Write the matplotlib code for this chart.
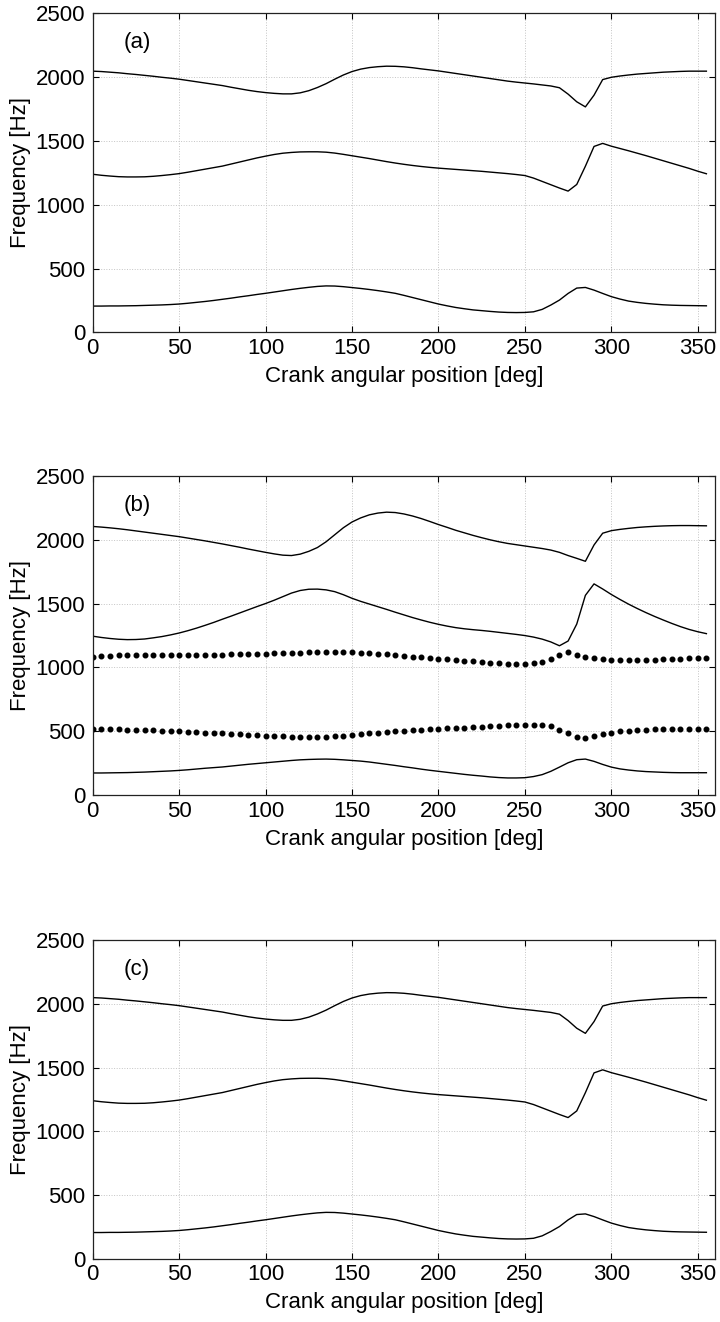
import numpy as np
from matplotlib import pyplot as plt

plt.rcParams['font.family'] = ['Liberation Sans', 'DejaVu Sans']

# crank angle, sampled every 5 deg
angle = np.arange(0, 360, 5)

# panels (a) and (c) - three modes
f1_a = [207, 207, 208, 208, 209, 210, 212, 214, 216, 219,
        223, 229, 236, 243, 251, 260, 269, 279, 288, 298,
        307, 317, 327, 337, 346, 354, 361, 365, 364, 359,
        352, 345, 337, 328, 318, 307, 291, 274, 257, 240,
        223, 209, 196, 186, 177, 171, 165, 160, 157, 156,
        157, 162, 181, 215, 254, 306, 348, 353, 332, 306,
        281, 262, 246, 236, 228, 222, 217, 214, 212, 211,
        210, 209]
f2_a = [1240, 1232, 1226, 1221, 1219, 1219, 1220, 1224, 1230, 1237,
        1245, 1256, 1268, 1280, 1292, 1304, 1320, 1336, 1352, 1368,
        1382, 1395, 1405, 1411, 1415, 1416, 1416, 1413, 1406, 1396,
        1385, 1374, 1363, 1351, 1339, 1328, 1318, 1309, 1301, 1294,
        1288, 1283, 1278, 1273, 1268, 1263, 1257, 1251, 1245, 1238,
        1230, 1210, 1184, 1158, 1132, 1108, 1160, 1303, 1458, 1482,
        1460, 1442, 1424, 1405, 1386, 1366, 1346, 1326, 1306, 1286,
        1264, 1244]
f3_a = [2048, 2045, 2040, 2035, 2028, 2022, 2015, 2008, 2000, 1993,
        1985, 1975, 1965, 1955, 1945, 1935, 1922, 1910, 1898, 1888,
        1880, 1874, 1870, 1870, 1878, 1895, 1920, 1950, 1985, 2018,
        2045, 2064, 2076, 2083, 2087, 2086, 2082, 2075, 2066, 2058,
        2050, 2040, 2030, 2020, 2010, 2000, 1990, 1980, 1970, 1962,
        1955, 1948, 1940, 1932, 1918, 1868, 1808, 1768, 1860, 1982,
        2000, 2010, 2018, 2025, 2030, 2035, 2040, 2043, 2046, 2048,
        2048, 2048]

# panel (b) - three modes plus two dotted branches
f1_b = [173, 173, 174, 175, 176, 178, 180, 183, 186, 189,
        193, 198, 204, 210, 215, 220, 227, 234, 241, 247,
        253, 259, 265, 271, 276, 279, 281, 282, 280, 276,
        271, 266, 259, 250, 241, 232, 222, 213, 203, 194,
        186, 178, 170, 162, 155, 149, 142, 137, 134, 134,
        136, 145, 160, 186, 219, 253, 277, 282, 264, 240,
        219, 205, 196, 189, 184, 181, 178, 176, 175, 175,
        175, 175]
f2_b = [1245, 1235, 1227, 1221, 1218, 1219, 1223, 1232, 1242, 1255,
        1270, 1288, 1308, 1330, 1353, 1378, 1402, 1427, 1452, 1477,
        1501, 1527, 1555, 1583, 1603, 1613, 1614, 1608, 1594, 1570,
        1542, 1518, 1497, 1476, 1455, 1433, 1412, 1391, 1372, 1354,
        1338, 1324, 1312, 1303, 1296, 1290, 1283, 1275, 1267, 1259,
        1250, 1238, 1222, 1200, 1170, 1207, 1340, 1565, 1655, 1615,
        1572, 1533, 1496, 1462, 1430, 1400, 1372, 1345, 1320, 1298,
        1280, 1265]
f3_b = [2105, 2100, 2094, 2087, 2079, 2070, 2061, 2052, 2043, 2034,
        2025, 2014, 2003, 1992, 1980, 1968, 1955, 1942, 1928, 1915,
        1902, 1890, 1880, 1877, 1888, 1910, 1940, 1985, 2040, 2095,
        2140, 2172, 2196, 2210, 2217, 2214, 2203, 2187, 2167, 2144,
        2120, 2098, 2075, 2055, 2035, 2017, 2000, 1985, 1972, 1962,
        1952, 1942, 1932, 1920, 1902, 1877, 1855, 1832, 1960, 2052,
        2072, 2082, 2090, 2097, 2102, 2106, 2109, 2111, 2112, 2112,
        2111, 2110]
d_hi_b = [1081, 1087, 1092, 1094, 1094, 1094, 1094, 1094, 1094, 1094,
          1094, 1097, 1097, 1100, 1100, 1100, 1102, 1102, 1105, 1108,
          1108, 1110, 1113, 1115, 1115, 1118, 1118, 1121, 1121, 1121,
          1118, 1115, 1110, 1108, 1102, 1097, 1089, 1084, 1079, 1073,
          1068, 1063, 1058, 1052, 1047, 1042, 1034, 1031, 1029, 1029,
          1029, 1034, 1042, 1063, 1097, 1121, 1100, 1081, 1073, 1066,
          1060, 1058, 1058, 1058, 1058, 1060, 1063, 1066, 1068, 1071,
          1073, 1076]
d_lo_b = [518, 518, 516, 516, 513, 513, 510, 508, 505, 503,
          500, 497, 495, 490, 487, 484, 479, 477, 471, 469,
          466, 464, 461, 458, 456, 456, 456, 458, 461, 466,
          471, 479, 484, 490, 495, 500, 505, 508, 513, 516,
          518, 523, 526, 529, 531, 534, 539, 544, 547, 549,
          552, 552, 547, 539, 513, 484, 458, 445, 461, 477,
          490, 500, 505, 510, 513, 516, 518, 518, 518, 518,
          518, 518]

panel_tags = ['(a)', '(b)', '(c)']
xticks = [0, 50, 100, 150, 200, 250, 300, 350]
yticks = [0, 500, 1000, 1500, 2000, 2500]

fig = plt.figure(figsize=(7.2, 13.22), dpi=100)
bottoms = [0.7485, 0.3986, 0.0477]
axes = [fig.add_axes([0.1288, b, 0.8643, 0.2413]) for b in bottoms]

def style_axis(ax, tag):
    ax.set_xlim(0, 360)
    ax.set_ylim(0, 2500)
    ax.set_xticks(xticks)
    ax.set_yticks(yticks)
    ax.grid(True, color='#c4c4c4', linestyle=':', linewidth=0.7)
    ax.set_axisbelow(True)
    ax.tick_params(direction='in', length=4.5, width=0.8, top=True, right=True,
                   labelsize=16, colors='black')
    ax.tick_params(axis='x', pad=4)
    ax.tick_params(axis='y', pad=5.5)
    for s in ax.spines.values():
        s.set_linewidth(0.9)
        s.set_color('#222222')
    ax.set_xlabel('Crank angular position [deg]', fontsize=16, labelpad=5)
    ax.set_ylabel('Frequency [Hz]', fontsize=16, labelpad=3)
    ax.text(25.5, 2270, tag, fontsize=16, ha='center', va='center')

# (a)
for f in (f1_a, f2_a, f3_a):
    axes[0].plot(angle, f, 'k-', linewidth=1.0)
style_axis(axes[0], panel_tags[0])

# (b)
for f in (f1_b, f2_b, f3_b):
    axes[1].plot(angle, f, 'k-', linewidth=1.0)
axes[1].plot(angle, d_hi_b, 'ko', markersize=3.3, linestyle='none')
axes[1].plot(angle, d_lo_b, 'ko', markersize=3.3, linestyle='none')
style_axis(axes[1], panel_tags[1])

# (c)
for f in (f1_a, f2_a, f3_a):
    axes[2].plot(angle, f, 'k-', linewidth=1.0)
style_axis(axes[2], panel_tags[2])

fig.savefig('out.png', dpi=100)
